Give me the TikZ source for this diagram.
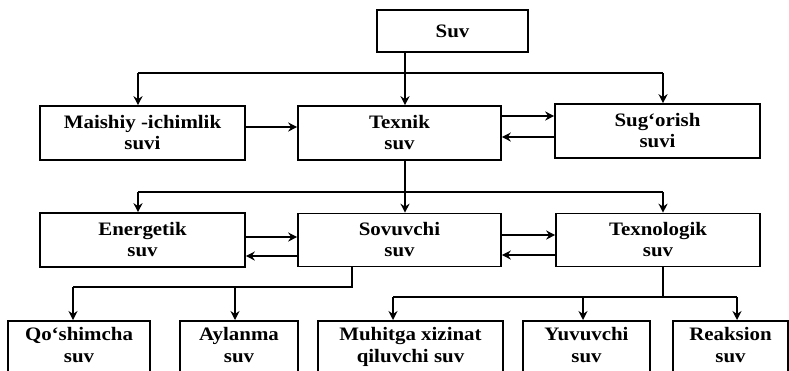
\documentclass[tikz,border=0pt]{standalone}
\usepackage{fontspec}
\setmainfont{Liberation Serif}[FakeStretch=1.1]
\usetikzlibrary{arrows.meta}
\begin{document}
\begin{tikzpicture}[x=1pt,y=-1pt,
  box/.style={draw,line width=1.6pt,align=center,font=\bfseries\fontsize{19}{21}\selectfont,inner sep=0pt},
  lbox/.style={draw,line width=1.6pt,align=center,font=\bfseries\fontsize{19}{22}\selectfont,anchor=north,inner sep=0pt,minimum height=62pt,text depth=14pt},
  ln/.style={line width=1.4pt},
  arr/.style={line width=1.4pt,-{Stealth[length=9pt,width=9pt]}}]
\useasboundingbox (0,0) rectangle (789,370);
\clip (0,0) rectangle (789,370);
\fill[white] (0,0) rectangle (789,370);
% boxes
\node[box,minimum width=151pt,minimum height=42pt] (suv) at (452.5,31) {Suv};
\node[box,minimum width=205pt,minimum height=54pt] (maishiy) at (142.5,133) {Maishiy -ichimlik\\suvi};
\node[box,minimum width=203pt,minimum height=54pt] (texnik) at (399.5,133) {Texnik\\suv};
\node[box,minimum width=205pt,minimum height=54pt] (sugorish) at (657.5,131) {Sug‘orish\\suvi};
\node[box,minimum width=205pt,minimum height=54pt] (energetik) at (142.5,240) {Energetik\\suv};
\node[box,minimum width=203pt,minimum height=53pt] (sovuvchi) at (399.5,240) {Sovuvchi\\suv};
\node[box,minimum width=204pt,minimum height=53pt] (texnologik) at (658,240) {Texnologik\\suv};
\node[lbox,minimum width=142pt] (qoshimcha) at (79,320) {Qo‘shimcha\\suv};
\node[lbox,minimum width=118pt] (aylanma) at (239,320) {Aylanma\\suv};
\node[lbox,minimum width=185pt] (muhitga) at (410.5,320) {Muhitga xizinat\\qiluvchi suv};
\node[lbox,minimum width=127pt] (yuvuvchi) at (586.5,320) {Yuvuvchi\\suv};
\node[lbox,minimum width=115pt] (reaksion) at (730.5,320) {Reaksion\\suv};
% helper coordinates
\coordinate (a1) at (405,73);
\coordinate (l1) at (138,73);
\coordinate (r1) at (663,73);
\coordinate (a2) at (405,192);
\coordinate (l2) at (138,192);
\coordinate (r2) at (663,192);
\coordinate (s1) at (352,287);
\coordinate (b1) at (73,287);
\coordinate (b2) at (235,287);
\coordinate (t1) at (663,297);
\coordinate (m1) at (393,297);
\coordinate (y1) at (583,297);
\coordinate (k1) at (737,297);
\coordinate (h1) at (0,127);
\coordinate (h2) at (0,116);
\coordinate (h3) at (0,137);
\coordinate (h4) at (0,237);
\coordinate (h5) at (0,256);
\coordinate (h6) at (0,235);
\coordinate (h7) at (0,255);
% level 1
\draw[arr] (suv.south -| a1) -- (texnik.north -| a1);
\draw[ln] (l1) -- (r1);
\draw[arr] (l1) -- (maishiy.north -| l1);
\draw[arr] (r1) -- (sugorish.north -| r1);
\draw[arr] (maishiy.east |- h1) -- (texnik.west |- h1);
\draw[arr] (texnik.east |- h2) -- (sugorish.west |- h2);
\draw[arr] (sugorish.west |- h3) -- (texnik.east |- h3);
% level 2
\draw[arr] (texnik.south -| a2) -- (sovuvchi.north -| a2);
\draw[ln] (l2) -- (r2);
\draw[arr] (l2) -- (energetik.north -| l2);
\draw[arr] (r2) -- (texnologik.north -| r2);
\draw[arr] (energetik.east |- h4) -- (sovuvchi.west |- h4);
\draw[arr] (sovuvchi.west |- h5) -- (energetik.east |- h5);
\draw[arr] (sovuvchi.east |- h6) -- (texnologik.west |- h6);
\draw[arr] (texnologik.west |- h7) -- (sovuvchi.east |- h7);
% level 3
\draw[ln] (sovuvchi.south -| s1) -- (s1) -- (b1);
\draw[arr] (b1) -- (qoshimcha.north -| b1);
\draw[arr] (b2) -- (aylanma.north -| b2);
\draw[ln] (texnologik.south -| t1) -- (t1);
\draw[ln] (m1) -- (k1);
\draw[arr] (m1) -- (muhitga.north -| m1);
\draw[arr] (y1) -- (yuvuvchi.north -| y1);
\draw[arr] (k1) -- (reaksion.north -| k1);
\end{tikzpicture}
\end{document}
